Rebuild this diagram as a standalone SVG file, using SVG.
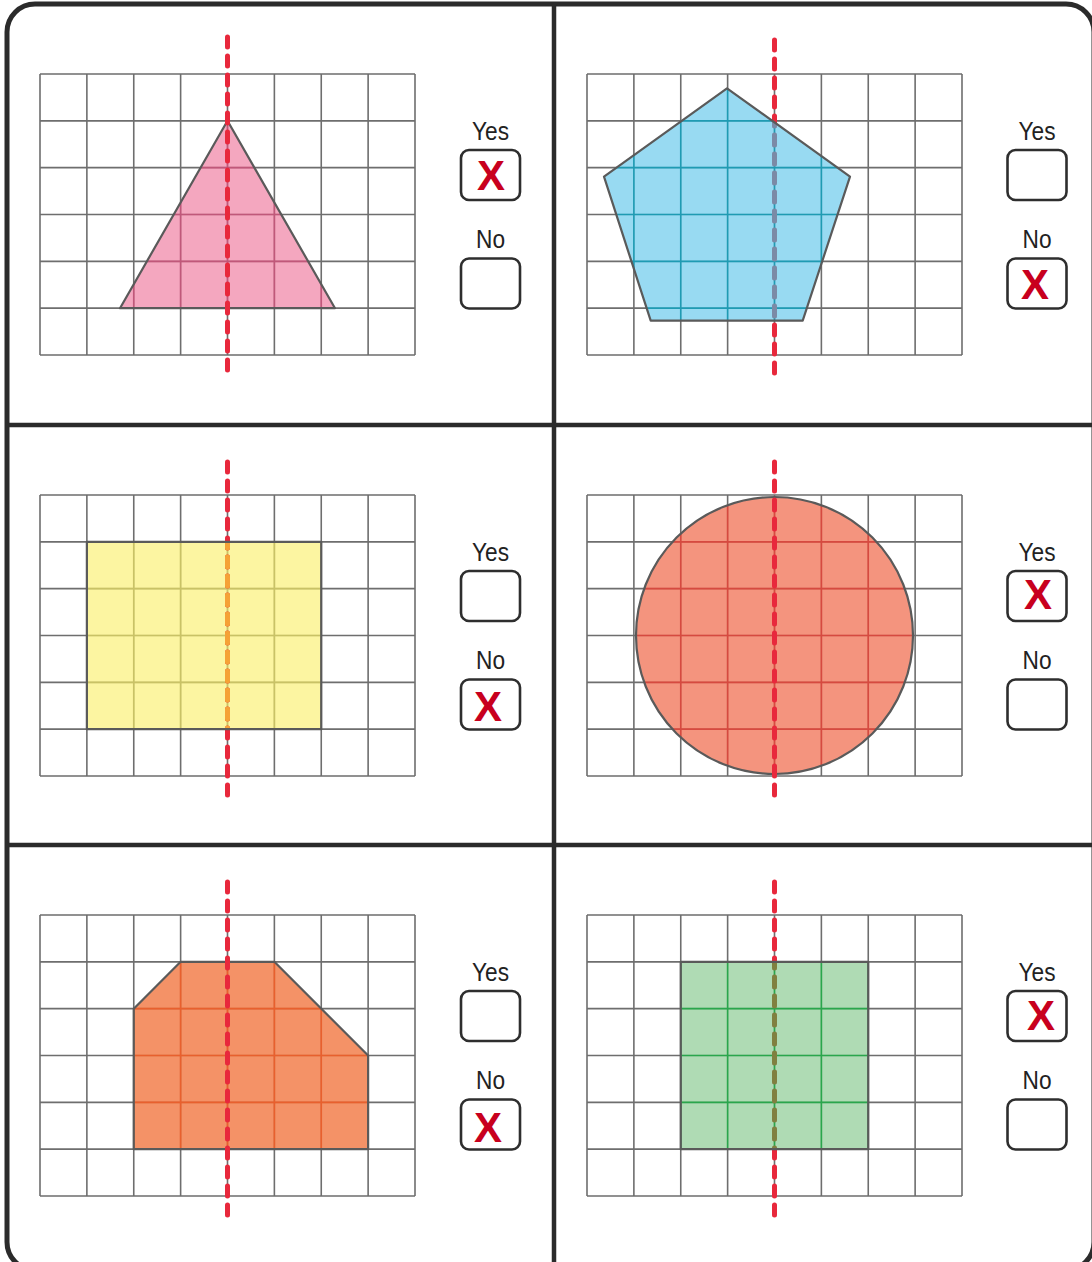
<svg xmlns="http://www.w3.org/2000/svg" xmlns:xlink="http://www.w3.org/1999/xlink" width="1092" height="1262" viewBox="0 0 1092 1262">
<style>
.frame{fill:none;stroke:#2b2b2b;stroke-width:5}
.div{stroke:#2b2b2b;stroke-width:4.5}
.axis{stroke:#e8283c;stroke-width:5;stroke-dasharray:10 9;stroke-linecap:round;fill:none}
.shape{stroke:#5a5a5a;stroke-width:2.2;stroke-linejoin:round}
.box{fill:#fff;stroke:#2e2e2e;stroke-width:2.6}
.lbl{font-family:"Liberation Sans",Arial,sans-serif;font-size:25px;fill:#222;text-anchor:middle}
.mark{font-family:"Liberation Sans",Arial,sans-serif;font-size:42px;font-weight:bold;fill:#c8001e;text-anchor:middle}
</style>
<defs>
<g id="grid">
<path fill="none" stroke-width="1.6" d="M0 0V281M46.875 0V281M93.75 0V281M140.625 0V281M187.5 0V281M234.375 0V281M281.25 0V281M328.125 0V281M375 0V281M0 0H375M0 46.83H375M0 93.67H375M0 140.5H375M0 187.33H375M0 234.17H375M0 281H375"/>
</g>
<g id="answers">
<text class="lbl" x="0" y="140" textLength="37" lengthAdjust="spacingAndGlyphs">Yes</text>
<rect class="box" x="-29.5" y="150" width="59" height="50" rx="8"/>
<text class="lbl" x="0" y="248" textLength="29" lengthAdjust="spacingAndGlyphs">No</text>
<rect class="box" x="-29.5" y="258.5" width="59" height="50" rx="8"/>
</g>
<clipPath id="cpTri"><polygon points="227.5,120.8 120,308.2 335,308.2"/></clipPath>
<clipPath id="cpPent"><polygon points="727,88.3 850,176.7 802.7,320.7 650.7,320.7 604,176.7"/></clipPath>
<clipPath id="cpRect"><rect x="86.875" y="541.83" width="234.375" height="187.34"/></clipPath>
<clipPath id="cpCirc"><circle cx="774.5" cy="635.5" r="138.5"/></clipPath>
<clipPath id="cpHex"><polygon points="133.75,1008.67 180.625,961.83 274.375,961.83 368.125,1055.5 368.125,1149.17 133.75,1149.17"/></clipPath>
<clipPath id="cpSq"><rect x="680.75" y="961.83" width="187.5" height="187.34"/></clipPath>
</defs>
<rect width="1092" height="1262" fill="#fff"/>

<g id="frame">
<rect class="frame" x="7" y="4" width="1087" height="1266" rx="28"/>
<line class="div" x1="554" y1="4" x2="554" y2="1262"/>
<line class="div" x1="7" y1="425" x2="1092" y2="425"/>
<line class="div" x1="7" y1="845" x2="1092" y2="845"/>
</g>

<g id="panel-triangle">
<use xlink:href="#grid" x="40" y="74" stroke="#6e6e6e"/>
<polygon points="227.5,120.8 120,308.2 335,308.2" fill="#f08aaa" fill-opacity="0.75"/>
<g clip-path="url(#cpTri)"><use xlink:href="#grid" x="40" y="74" stroke="#c0587a"/></g>
<polygon class="shape" points="227.5,120.8 120,308.2 335,308.2" fill="none"/>
<line class="axis" x1="227.5" y1="37" x2="227.5" y2="378"/>
<use xlink:href="#answers" x="490.5" y="0"/>
<text class="mark" x="491" y="190">X</text>
</g>

<g id="panel-pentagon">
<use xlink:href="#grid" x="587" y="74" stroke="#6e6e6e"/>
<line class="axis" x1="774.5" y1="40" x2="774.5" y2="381"/>
<polygon points="727,88.3 850,176.7 802.7,320.7 650.7,320.7 604,176.7" fill="#86d3f0" fill-opacity="0.85"/>
<g clip-path="url(#cpPent)"><use xlink:href="#grid" x="587" y="74" stroke="#1f9bb3"/></g>
<line class="axis" x1="774.5" y1="40" x2="774.5" y2="381" clip-path="url(#cpPent)" style="stroke:#7b8aa6"/>
<polygon class="shape" points="727,88.3 850,176.7 802.7,320.7 650.7,320.7 604,176.7" fill="none"/>
<use xlink:href="#answers" x="1037" y="0"/>
<text class="mark" x="1035" y="299">X</text>
</g>

<g id="panel-rectangle">
<use xlink:href="#grid" x="40" y="495" stroke="#6e6e6e"/>
<rect x="86.875" y="541.83" width="234.375" height="187.34" fill="#fbf38a" fill-opacity="0.8"/>
<g clip-path="url(#cpRect)"><use xlink:href="#grid" x="40" y="495" stroke="#c9c266"/></g>
<line class="axis" x1="227.5" y1="462" x2="227.5" y2="803"/>
<line class="axis" x1="227.5" y1="462" x2="227.5" y2="803" clip-path="url(#cpRect)" style="stroke:#f5a236"/>
<rect class="shape" x="86.875" y="541.83" width="234.375" height="187.34" fill="none"/>
<use xlink:href="#answers" x="490.5" y="421"/>
<text class="mark" x="488" y="721">X</text>
</g>

<g id="panel-circle">
<use xlink:href="#grid" x="587" y="495" stroke="#6e6e6e"/>
<circle cx="774.5" cy="635.5" r="138.5" fill="#f27c62" fill-opacity="0.82"/>
<g clip-path="url(#cpCirc)"><use xlink:href="#grid" x="587" y="495" stroke="#d64a40"/></g>
<circle class="shape" cx="774.5" cy="635.5" r="138.5" fill="none"/>
<line class="axis" x1="774.5" y1="462" x2="774.5" y2="803"/>
<use xlink:href="#answers" x="1037" y="421"/>
<text class="mark" x="1038" y="609">X</text>
</g>

<g id="panel-hexagon">
<use xlink:href="#grid" x="40" y="915" stroke="#6e6e6e"/>
<polygon points="133.75,1008.67 180.625,961.83 274.375,961.83 368.125,1055.5 368.125,1149.17 133.75,1149.17" fill="#f27a45" fill-opacity="0.82"/>
<g clip-path="url(#cpHex)"><use xlink:href="#grid" x="40" y="915" stroke="#e8602e"/></g>
<polygon class="shape" points="133.75,1008.67 180.625,961.83 274.375,961.83 368.125,1055.5 368.125,1149.17 133.75,1149.17" fill="none"/>
<line class="axis" x1="227.5" y1="882" x2="227.5" y2="1223"/>
<use xlink:href="#answers" x="490.5" y="841"/>
<text class="mark" x="488" y="1142">X</text>
</g>

<g id="panel-square">
<use xlink:href="#grid" x="587" y="915" stroke="#6e6e6e"/>
<line class="axis" x1="774.5" y1="882" x2="774.5" y2="1223"/>
<rect x="680.75" y="961.83" width="187.5" height="187.34" fill="#9ed3a4" fill-opacity="0.82"/>
<g clip-path="url(#cpSq)"><use xlink:href="#grid" x="587" y="915" stroke="#2aa64c"/></g>
<line class="axis" x1="774.5" y1="882" x2="774.5" y2="1223" clip-path="url(#cpSq)" style="stroke:#808040"/>
<rect class="shape" x="680.75" y="961.83" width="187.5" height="187.34" fill="none"/>
<use xlink:href="#answers" x="1037" y="841"/>
<text class="mark" x="1041" y="1030">X</text>
</g>
</svg>
